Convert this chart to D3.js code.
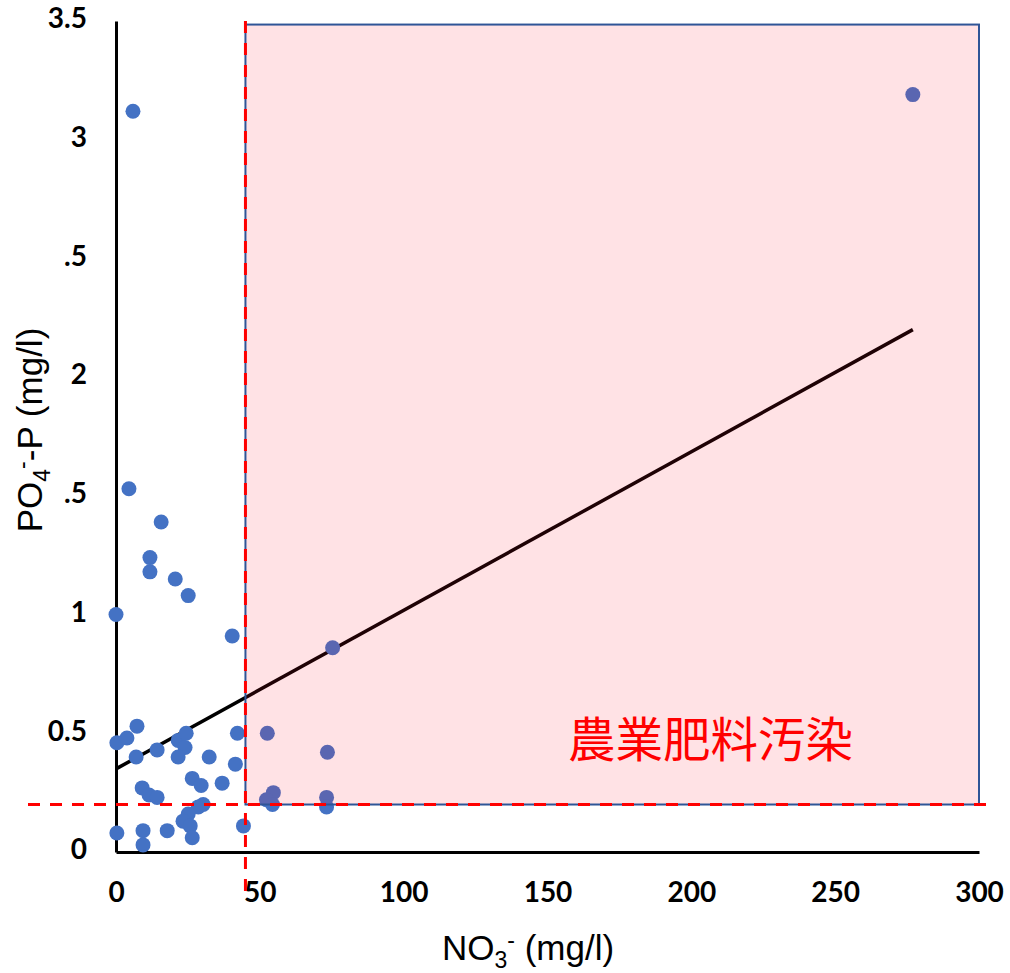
<!DOCTYPE html>
<meta charset="utf-8">
<style>
body { margin: 0; background: #fff; }
.tick text { font-family: Lato, "Noto Sans", sans-serif; font-weight: bold; font-size: 28px; fill: #000; }
.axis path { stroke: #000; stroke-width: 3; }
.title { font-family: "Liberation Sans", Arial, sans-serif; font-size: 35px; fill: #000; }
</style>
<body>
<script src="https://d3js.org/d3.v7.min.js"></script>
<script>

// NO3- (mg/l) and PO4-P (mg/l)
const no3 = [5.9, 277.0, 4.5, 15.7, 11.8, 11.8, 20.6, 25.1, 0, 40.4, 75.3,
             0.3, 3.8, 7.3, 7.0, 14.3, 21.6, 24.4, 24.0, 21.6, 32.4, 42.2, 41.5,
             26.5, 29.6, 36.9, 9.1, 11.5, 14.3, 30.3, 28.6, 25.1, 23.3, 25.8, 26.5,
             17.8, 9.4, 9.4, 0.3, 44.3,
             52.6, 73.5, 54.7, 52.3, 54.4, 73.2, 73.2];
const po4 = [3.12, 3.19, 1.53, 1.39, 1.24, 1.18, 1.15, 1.08, 1.00, 0.91, 0.86,
             0.46, 0.48, 0.53, 0.40, 0.43, 0.47, 0.50, 0.44, 0.40, 0.40, 0.50, 0.37,
             0.31, 0.28, 0.29, 0.27, 0.24, 0.23, 0.20, 0.19, 0.16, 0.13, 0.11, 0.06,
             0.09, 0.09, 0.03, 0.08, 0.11,
             0.50, 0.42, 0.25, 0.22, 0.20, 0.23, 0.19];

// linear trend line end points
const trendX = [0, 277];
const trendY = [0.35, 2.2];

// thresholds for the shaded zone
const no3Limit = 45;
const po4Limit = 0.2;
const zoneTop = 3.485;

const xTicks = [0, 50, 100, 150, 200, 250, 300];
const yTicks = [0, 0.5, 1, 1.5, 2, 2.5, 3, 3.5];
const yTickLabels = ["0", "0.5", "1", ".5", "2", ".5", "3", "3.5"];

const width = 1010, height = 973;

const x = d3.scaleLinear().domain([0, 300]).range([116, 979]);
const y = d3.scaleLinear().domain([0, 3.5]).range([852, 21]);

const svg = d3.select("body").append("svg")
    .attr("width", width)
    .attr("height", height);

// axes
svg.append("g")
    .attr("class", "axis")
    .attr("transform", "translate(0," + y(0) + ")")
    .call(d3.axisBottom(x).tickValues(xTicks).tickSize(0).tickPadding(30).tickFormat(d3.format("d")))
    .call(g => g.selectAll(".tick text").attr("dy", "0.71em"));

svg.append("g")
    .attr("class", "axis")
    .attr("transform", "translate(" + x(0) + ",0)")
    .call(d3.axisLeft(y).tickValues(yTicks).tickSize(0).tickPadding(29)
      .tickFormat((d, i) => yTickLabels[i]))
    .call(g => g.selectAll(".tick text").attr("dy", "0.24em"));

// trend line
svg.append("line")
    .attr("x1", x(trendX[0])).attr("y1", y(trendY[0]))
    .attr("x2", x(trendX[1])).attr("y2", y(trendY[1]))
    .attr("stroke", "#000")
    .attr("stroke-width", 3.5);

// points
svg.selectAll(".dot")
    .data(no3.map((d, i) => [d, po4[i]]))
    .enter().append("circle")
    .attr("class", "dot")
    .attr("cx", d => x(d[0]))
    .attr("cy", d => y(d[1]))
    .attr("r", 7.5)
    .attr("fill", "#4472C4");

// shaded zone laid over the marks
svg.append("rect")
    .attr("x", x(no3Limit))
    .attr("y", y(zoneTop))
    .attr("width", x(300) - x(no3Limit))
    .attr("height", y(po4Limit) - y(zoneTop))
    .attr("fill", "rgba(255,20,40,0.12)")
    .attr("stroke", "#2F5597")
    .attr("stroke-width", 2);

// threshold dashed lines
svg.append("line")
    .attr("x1", x(no3Limit)).attr("x2", x(no3Limit))
    .attr("y1", y(3.5)).attr("y2", 891)
    .attr("stroke", "#FF0000")
    .attr("stroke-width", 3)
    .attr("stroke-dasharray", "12,10");

svg.append("line")
    .attr("x1", 28).attr("x2", 989)
    .attr("y1", y(po4Limit)).attr("y2", y(po4Limit))
    .attr("stroke", "#FF0000")
    .attr("stroke-width", 3)
    .attr("stroke-dasharray", "12,10");

svg.append("text")
    .attr("x", 568)
    .attr("y", 757)
    .attr("font-family", "'Noto Sans CJK JP', sans-serif")
    .attr("font-size", "47.5px")
    .attr("fill", "#FF0000")
    .text("農業肥料汚染");

// axis titles
const xt = svg.append("text")
    .attr("class", "title")
    .attr("x", 528)
    .attr("y", 960)
    .attr("text-anchor", "middle");
xt.append("tspan").text("NO");
xt.append("tspan").attr("font-size", "23px").attr("dy", 8).text("3");
xt.append("tspan").attr("font-size", "23px").attr("dy", -20).text("-");
xt.append("tspan").attr("dy", 12).text(" (mg/l)");

const yt = svg.append("text")
    .attr("class", "title")
    .attr("transform", "translate(42,430) rotate(-90)")
    .attr("text-anchor", "middle");
yt.append("tspan").text("PO");
yt.append("tspan").attr("font-size", "23px").attr("dy", 8).text("4");
yt.append("tspan").attr("font-size", "23px").attr("dy", -20).text("-");
yt.append("tspan").attr("dy", 12).text("-P (mg/l)");

</script>
